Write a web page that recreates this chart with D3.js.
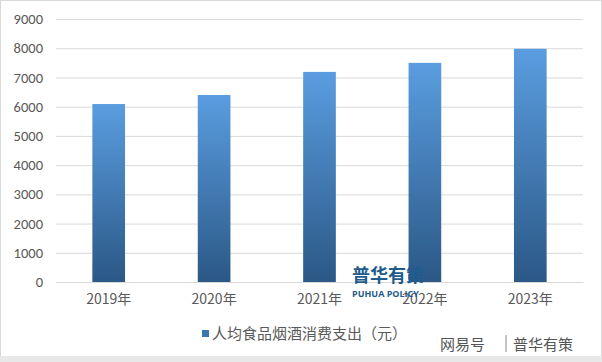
<!DOCTYPE html>
<html>
<head>
<meta charset="utf-8">
<script src="https://cdn.jsdelivr.net/npm/d3@7"></script>
<style>
body { margin: 0; background: #fff; }
svg { display: block; font-family: "Microsoft YaHei", "Noto Sans CJK SC", sans-serif; }
</style>
</head>
<body>
<script>
// data
var years = ["2019年", "2020年", "2021年", "2022年", "2023年"];
var values = [6090, 6400, 7190, 7500, 7980];
var yTicks = [0, 1000, 2000, 3000, 4000, 5000, 6000, 7000, 8000, 9000];
var seriesName = "人均食品烟酒消费支出（元）";

var W = 602, H = 362;
var margin = {top: 19, right: 19, bottom: 80, left: 56},
    width = W - margin.left - margin.right,
    height = H - margin.top - margin.bottom;

var x = d3.scaleBand().domain(years).range([0, width]).paddingInner(0.69).paddingOuter(0.345),
    y = d3.scaleLinear().domain([0, 9000]).range([height, 0]);

var svg = d3.select("body").append("svg")
    .attr("width", W)
    .attr("height", H);

// gradient for bars
var grad = svg.append("defs").append("linearGradient")
    .attr("id", "barGrad")
    .attr("x1", 0).attr("y1", 0).attr("x2", 0).attr("y2", 1);
grad.append("stop").attr("offset", "0%").attr("stop-color", "#5a9de0");
grad.append("stop").attr("offset", "100%").attr("stop-color", "#2b5886");

// outer frame + bottom strip
svg.append("rect").attr("x", 0.5).attr("y", 0.5).attr("width", W - 1).attr("height", H - 1)
    .attr("fill", "none").attr("stroke", "#d9d9d9");
svg.append("rect").attr("x", 0).attr("y", 356).attr("width", W).attr("height", 6).attr("fill", "#e8e8e8");

var g = svg.append("g")
    .attr("transform", "translate(" + margin.left + "," + margin.top + ")");

// gridlines
g.append("g")
    .call(d3.axisLeft(y).tickValues(yTicks).tickSize(-width).tickFormat(""))
    .call(function(s) {
        s.select(".domain").remove();
        s.selectAll("line").attr("stroke", "#d9d9d9");
    });

// y labels
g.append("g")
    .call(d3.axisLeft(y).tickValues(yTicks).tickSize(0).tickPadding(13).tickFormat(d3.format("d")))
    .call(function(s) {
        s.select(".domain").remove();
        s.selectAll("text").attr("fill", "#595959").style("font-size", "14.5px")
            .style("font-family", "Carlito, Calibri, 'Liberation Sans', sans-serif");
    });

// bars
g.selectAll(".bar")
    .data(values)
    .enter().append("rect")
    .attr("class", "bar")
    .attr("x", function(d, i) { return x(years[i]); })
    .attr("y", function(d) { return y(d); })
    .attr("width", x.bandwidth())
    .attr("height", function(d) { return height - y(d); })
    .attr("fill", "url(#barGrad)");

// x axis
g.append("g")
    .attr("transform", "translate(0," + height + ")")
    .call(d3.axisBottom(x).tickSize(0).tickPadding(12))
    .call(function(s) {
        s.select(".domain").attr("stroke", "#d9d9d9");
        s.selectAll("text").attr("fill", "#595959").style("font-size", "14px")
            .style("font-family", "'Noto Sans CJK SC', sans-serif");
    });

// legend
var leg = svg.append("g").attr("transform", "translate(202,334)");
leg.append("rect").attr("x", 0).attr("y", -4).attr("width", 7).attr("height", 7).attr("fill", "#3d75ad");
leg.append("text").attr("x", 10).attr("y", 0).attr("dy", "0.35em")
    .attr("fill", "#595959").style("font-size", "15px").text(seriesName);

// watermarks
svg.append("text").attr("x", 352).attr("y", 282).attr("fill", "#1f5b8c")
    .style("font-size", "18px").style("font-weight", "bold").text("普华有策");
svg.append("text").attr("x", 352).attr("y", 297).attr("fill", "#1f5b8c")
    .style("font-size", "9px").style("font-weight", "bold")
    .style("font-family", "'Open Sans', sans-serif").text("PUHUA POLICY");
svg.append("text").attr("x", 440).attr("y", 350).attr("fill", "#555")
    .style("font-size", "15px").text("网易号");
svg.append("line").attr("x1", 506).attr("x2", 506).attr("y1", 335).attr("y2", 352).attr("stroke", "#888");
svg.append("text").attr("x", 513).attr("y", 350).attr("fill", "#555")
    .style("font-size", "15px").text("普华有策");
</script>
</body>
</html>
